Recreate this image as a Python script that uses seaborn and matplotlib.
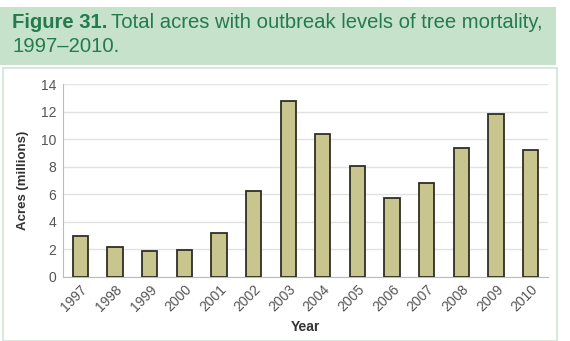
import matplotlib
matplotlib.use('Agg')
import matplotlib.pyplot as plt
import seaborn as sns
from matplotlib.patches import Rectangle

years = ['1997', '1998', '1999', '2000', '2001', '2002', '2003',
         '2004', '2005', '2006', '2007', '2008', '2009', '2010']
acres = [3.0, 2.15, 1.9, 1.95, 3.2, 6.25, 12.8,
         10.4, 8.05, 5.7, 6.8, 9.35, 11.8, 9.2]
yticks = [0, 2, 4, 6, 8, 10, 12, 14]

sns.set_style('white')
plt.rcParams['font.family'] = ['Liberation Sans', 'DejaVu Sans']

W, H = 570, 341
fig = plt.figure(figsize=(W/100, H/100), dpi=100)

# title band and white panel (behind the axes)
fig.patches.append(Rectangle((0, 1 - 65/H), 556/W, 58/H, transform=fig.transFigure,
                             facecolor='#c6e2cb', edgecolor='none', zorder=-5))
fig.patches.append(Rectangle((3/W, 0), 554/W, 1 - 68/H, transform=fig.transFigure,
                             facecolor='white', edgecolor='#cfe5d3', linewidth=1.2, zorder=-5))

green = '#237b4b'
tsize = 14.6
t1 = fig.text(12/W, 1 - 23/H, 'Figure 31.', fontsize=tsize, fontweight='bold', color=green,
              va='center')
r = fig.canvas.get_renderer()
x1 = t1.get_window_extent(r).x1 / W
fig.text(x1 + 4/W, 1 - 23/H, 'Total acres with outbreak levels of tree mortality,',
         fontsize=tsize, color=green, va='center')
fig.text(12/W, 1 - 47/H, '1997\u20132010.', fontsize=tsize, color=green, va='center')

ax = fig.add_axes([63/W, 64/H, 485/W, 193/H])
sns.barplot(x=years, y=acres, ax=ax, color='#c9c58e', saturation=1,
            edgecolor='#2f2f25', linewidth=1.3, width=0.44, zorder=3)

ax.set_ylim(0, 14)
ax.set_yticks(yticks)
ax.yaxis.grid(True, color='#e2e2e2', linewidth=1, zorder=0)
ax.set_axisbelow(True)
for s in ['top', 'right']:
    ax.spines[s].set_visible(False)
ax.spines['left'].set_color('#bbbbbb')
ax.spines['bottom'].set_color('#bbbbbb')
ax.tick_params(axis='y', length=3, color='#bbbbbb', labelsize=10, labelcolor='#555555', pad=2)
ax.tick_params(axis='x', length=0, labelsize=10, labelcolor='#555555', pad=4)
plt.setp(ax.get_xticklabels(), rotation=45, ha='right', rotation_mode='anchor')
ax.set_xlabel('Year', fontsize=10, fontweight='bold', color='#333333', labelpad=4)
ax.set_ylabel('Acres (millions)', fontsize=9.5, fontweight='bold', color='#333333', labelpad=8)

fig.savefig('out.png', dpi=100)
